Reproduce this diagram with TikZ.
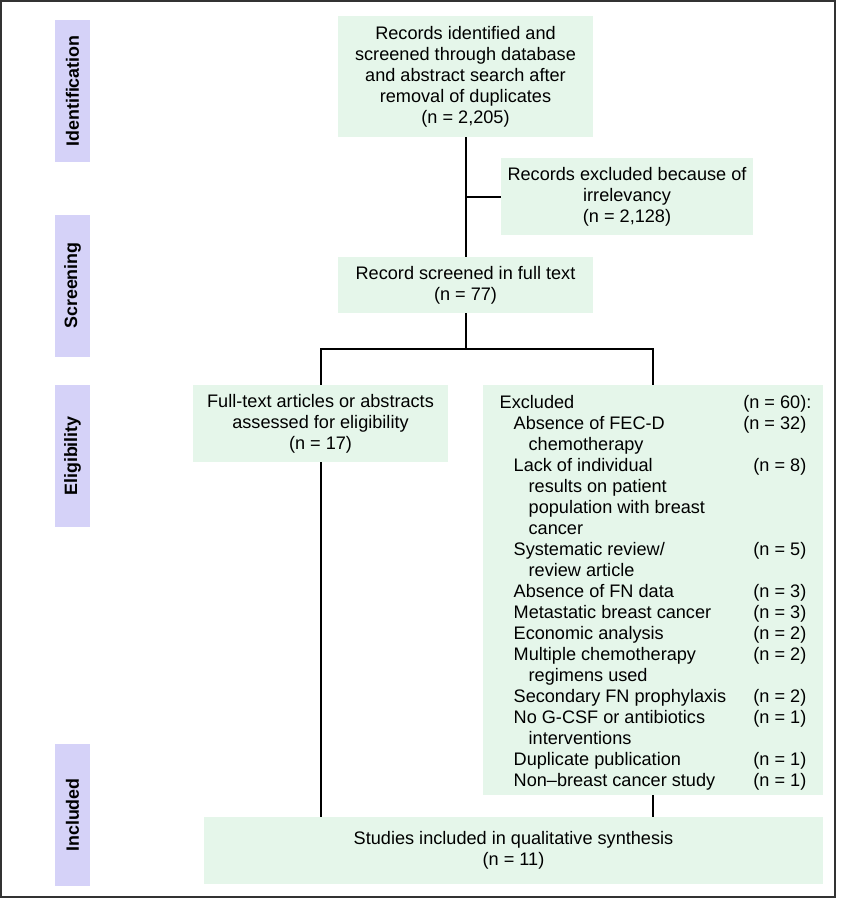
\documentclass[tikz,border=0pt]{standalone}
\usepackage{fontspec}
\setmainfont{Liberation Sans}
\usepackage{tikz}
\usetikzlibrary{positioning, calc}
\definecolor{boxgreen}{RGB}{229,246,234}
\definecolor{stagelila}{RGB}{213,210,248}
\newcommand{\exitem}{\hspace*{10.5pt}}
\newcommand{\excont}{\hspace*{21.75pt}}
\tikzset{
        x=0.75pt, y=-0.75pt, % one unit is one pixel of the reference
        box/.style={fill=boxgreen, align=center, inner sep=0pt,
                    font=\fontsize{13.6}{15.75}\selectfont}, % green boxes
        stage/.style={fill=stagelila, rotate=90, inner sep=0pt,
                      minimum width=106.5pt, minimum height=26.25pt,
                      font=\fontsize{13.4}{15}\selectfont\bfseries}, % stage labels
        link/.style={line width=1.5pt, black}, % connectors
    }

\begin{document}
\begin{tikzpicture}
    \useasboundingbox (0,0) rectangle (840,900);
    \draw[line width=1.3pt, black!80] (1,1) rectangle (835,897);

    % stages
    \node[stage] (sIdent) at (72.5,91) {Identification};
    \node[stage] (sScreen) at (72.5,285.5) {Screening};
    \node[stage] (sElig) at (72.5,456) {Eligibility};
    \node[stage] (sIncl) at (72.5,815) {Included};

    % boxes
    \node[box, minimum width=191.25pt, minimum height=90.75pt] (ident) at (465.5,76.5)
      {Records identified and\\screened through database\\and abstract search after\\removal of duplicates\\(n = 2,205)};
    \node[box, minimum width=189pt, minimum height=57.75pt] (irrel) at (627,196.5)
      {Records excluded because of\\irrelevancy\\(n = 2,128)};
    \node[box, minimum width=191.25pt, minimum height=42pt] (screen) at (465.5,285)
      {Record screened in full text\\(n = 77)};
    \node[box, minimum width=191.25pt, minimum height=57.75pt] (full) at (320.5,423.5)
      {Full-text articles or abstracts\\assessed for eligibility\\(n = 17)};
    \node[box, align=left, minimum width=255pt, minimum height=307.5pt] (excl) at (653,590)
      {\raisebox{-2.6pt}[\height][\depth]{%
       \begin{tabular*}{230pt}{@{}l@{\extracolsep{\fill}}r@{}}
        Excluded & (n = 60)\rlap{:}\\
        \exitem Absence of FEC-D & (n = 32)\\
        \excont chemotherapy & \\
        \exitem Lack of individual & (n = 8)\\
        \excont results on patient & \\
        \excont population with breast & \\
        \excont cancer & \\
        \exitem Systematic review/ & (n = 5)\\
        \excont review article & \\
        \exitem Absence of FN data & (n = 3)\\
        \exitem Metastatic breast cancer & (n = 3)\\
        \exitem Economic analysis & (n = 2)\\
        \exitem Multiple chemotherapy & (n = 2)\\
        \excont regimens used & \\
        \exitem Secondary FN prophylaxis & (n = 2)\\
        \exitem No G-CSF or antibiotics & (n = 1)\\
        \excont interventions & \\
        \exitem Duplicate publication & (n = 1)\\
        \exitem Non–breast cancer study & (n = 1)
      \end{tabular*}}};
    \node[box, minimum width=464.25pt, minimum height=50.25pt] (incl) at (513.5,850.5)
      {Studies included in qualitative synthesis\\(n = 11)};

    % connectors
    \coordinate (split) at ($(screen.south)+(0,36)$);
    \draw[link] (ident.south) -- (screen.north);
    \draw[link] (ident.south |- irrel.west) -- (irrel.west);
    \draw[link] (screen.south) -- (split);
    \draw[link] (full.north) |- (split) -| (excl.north);
    \draw[link] (full.south) -- (full.south |- incl.north);
    \draw[link] (excl.south) -- (excl.south |- incl.north);
\end{tikzpicture}
\end{document}
